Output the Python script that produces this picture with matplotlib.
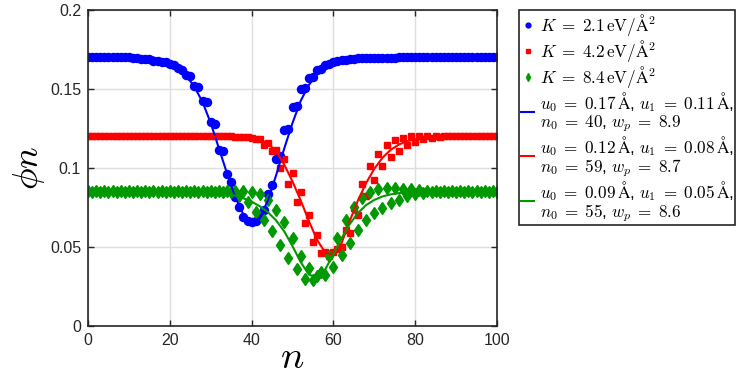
import numpy as np
import matplotlib
matplotlib.use("Agg")
import matplotlib.pyplot as plt
from matplotlib.ticker import FormatStrFormatter

# site index
n = np.arange(101)
n_fit = np.arange(0, 101, 2)

# K = 2.1 eV/A^2 (blue)
phi_k21 = ([0.170] * 11
           + [0.1695, 0.1695, 0.169, 0.169, 0.1688, 0.168, 0.1678, 0.1672, 0.1668,
              0.1658, 0.1652, 0.163, 0.1622, 0.159, 0.1583, 0.152, 0.1515, 0.1422,
              0.1415, 0.1288, 0.128, 0.1112, 0.1105, 0.0962, 0.0912, 0.0815, 0.0755,
              0.069, 0.0663, 0.066, 0.0662, 0.0682, 0.0735, 0.0835, 0.089, 0.1055,
              0.1075, 0.124, 0.1248, 0.1385, 0.1392, 0.1498, 0.1505, 0.157, 0.1575,
              0.1622, 0.1628, 0.1655, 0.166, 0.1673, 0.1678, 0.1683, 0.1686, 0.169,
              0.1692]
           + [0.1695] * 10 + [0.170] * 25)

# K = 4.2 eV/A^2 (red)
phi_k42 = ([0.120] * 36 + [0.1198] * 4
           + [0.1192, 0.1185, 0.1182, 0.1148, 0.1158, 0.1105, 0.1115, 0.1000, 0.1060,
              0.0900, 0.0970, 0.0785, 0.0850, 0.0650, 0.0700, 0.0534, 0.0576, 0.0460,
              0.0470, 0.0445, 0.0470, 0.0490, 0.0500, 0.0605, 0.0590, 0.0745, 0.0700,
              0.0900, 0.0820, 0.1015, 0.0924, 0.1090, 0.1010, 0.1146, 0.1070, 0.1177,
              0.1110, 0.1190, 0.1145, 0.1200, 0.1167, 0.1200, 0.1182, 0.1200, 0.1192,
              0.1200, 0.1196]
           + [0.120] * 14)

# K = 8.4 eV/A^2 (green)
phi_k84 = ([0.0853, 0.0847] * 17
           + [0.0855, 0.0845, 0.0855, 0.0825, 0.0852, 0.0785, 0.0845, 0.0723, 0.0835,
              0.0670, 0.0797, 0.0600, 0.0734, 0.0513, 0.0660, 0.0428, 0.0555, 0.0360,
              0.0440, 0.0300, 0.0365, 0.0290, 0.0316, 0.0344, 0.0323, 0.0440, 0.0376,
              0.0555, 0.0450, 0.0670, 0.0523, 0.0755, 0.0608, 0.0810, 0.0670, 0.0850,
              0.0713, 0.0870, 0.0745, 0.0872, 0.0780, 0.0873, 0.0800, 0.0870, 0.0820,
              0.0865, 0.0835, 0.0860, 0.0842, 0.0856, 0.0846]
           + [0.0853, 0.0847] * 8)

# fitted profiles, read at even n
fit_k21 = ([0.170] * 9
           + [0.1685, 0.1662, 0.1628, 0.1585, 0.1515, 0.1418, 0.1285, 0.1125, 0.0965,
              0.0815, 0.0705, 0.0655, 0.0685, 0.0795, 0.0955, 0.1125, 0.1285, 0.1425,
              0.1525, 0.1595, 0.164, 0.1668, 0.1683, 0.1692, 0.1696]
           + [0.170] * 17)
fit_k42 = ([0.120] * 20
           + [0.1195, 0.118, 0.1155, 0.1105, 0.102, 0.0915, 0.0795, 0.0665, 0.0545,
              0.0465, 0.045, 0.0525, 0.0665, 0.0795, 0.0905, 0.0995, 0.1065, 0.1115,
              0.1148, 0.117, 0.1182, 0.119, 0.1195]
           + [0.120] * 8)
fit_k84 = ([0.085] * 16
           + [0.0847, 0.0838, 0.0825, 0.0808, 0.0787, 0.0758, 0.072, 0.0668, 0.0598,
              0.0505, 0.0405, 0.0325, 0.0308, 0.0358, 0.0455, 0.0555, 0.0645, 0.0715,
              0.0765, 0.0798, 0.082, 0.0833, 0.0841, 0.0846]
           + [0.085] * 11)

EQ = r"\;=\;"
labels_data = [r"$K" + EQ + r"2.1\,\mathrm{eV/\AA^2}$",
               r"$K" + EQ + r"4.2\,\mathrm{eV/\AA^2}$",
               r"$K" + EQ + r"8.4\,\mathrm{eV/\AA^2}$"]
labels_fit = [r"$u_0" + EQ + r"0.17\,\mathrm{\AA}$, $u_1" + EQ + r"0.11\,\mathrm{\AA}$," "\n"
              r"$n_0" + EQ + r"40$, $w_p" + EQ + r"8.9$",
              r"$u_0" + EQ + r"0.12\,\mathrm{\AA}$, $u_1" + EQ + r"0.08\,\mathrm{\AA}$," "\n"
              r"$n_0" + EQ + r"59$, $w_p" + EQ + r"8.7$",
              r"$u_0" + EQ + r"0.09\,\mathrm{\AA}$, $u_1" + EQ + r"0.05\,\mathrm{\AA}$," "\n"
              r"$n_0" + EQ + r"55$, $w_p" + EQ + r"8.6$"]

blue, red, green = (0, 0, 1), (1, 0, 0), (0, 0.6, 0)

plt.rcParams["mathtext.fontset"] = "cm"
plt.rcParams["font.family"] = ["Liberation Sans", "DejaVu Sans"]

fig = plt.figure(figsize=(7.48, 3.87), dpi=100)
ax = fig.add_axes([88 / 748, 61 / 387, 409 / 748, 316 / 387])

ax.plot(n, phi_k21, "o", color=blue, ms=5.8, ls="none", label=labels_data[0])
ax.plot(n, phi_k42, "s", color=red, ms=4.6, ls="none", label=labels_data[1])
ax.plot(n, phi_k84, "d", color=green, ms=6.2, ls="none", label=labels_data[2])
ax.plot(n_fit, fit_k21, "-", color=blue, lw=1.5, label=labels_fit[0])
ax.plot(n_fit, fit_k42, "-", color=red, lw=1.5, label=labels_fit[1])
ax.plot(n_fit, fit_k84, "-", color=green, lw=1.5, label=labels_fit[2])

ax.set_xlim(0, 100)
ax.set_ylim(0, 0.2)
ax.set_xticks([0, 20, 40, 60, 80, 100])
ax.set_yticks([0, 0.05, 0.1, 0.15, 0.2])
ax.yaxis.set_major_formatter(FormatStrFormatter("%g"))
ax.grid(True, color=(0.87, 0.87, 0.87), lw=1.0)
ax.set_axisbelow(True)
ax.tick_params(direction="in", length=4, width=1.0, top=True, right=True,
               labelsize=11.5, colors=(0.15, 0.15, 0.15), pad=5)
for sp in ax.spines.values():
    sp.set_color((0.15, 0.15, 0.15))
    sp.set_linewidth(1.2)

ax.set_xlabel(r"$n$", fontsize=28, labelpad=-6)
ax.set_ylabel(r"$\phi n$", fontsize=26, labelpad=2)

leg = ax.legend(loc="upper left", bbox_to_anchor=(519 / 748, 377 / 387),
                bbox_transform=fig.transFigure, borderaxespad=0, fontsize=12.3,
                markerscale=0.6, handlelength=0.8, handletextpad=0.3,
                borderpad=0.1, labelspacing=0.0, fancybox=False, framealpha=1)
for t in leg.get_texts():
    t.set_linespacing(1.0)
leg.get_frame().set_edgecolor((0.15, 0.15, 0.15))
leg.get_frame().set_linewidth(1.2)

fig.savefig("out.png", dpi=100)
